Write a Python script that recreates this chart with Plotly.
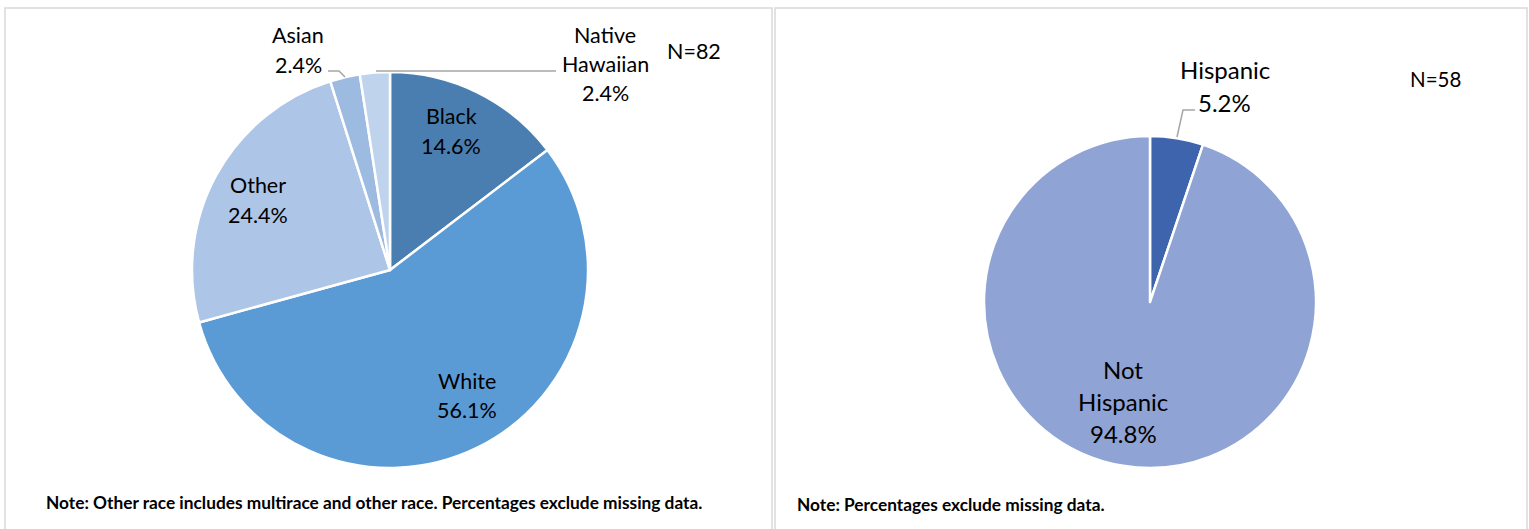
import plotly.graph_objects as go

W, H = 1529, 529

# ---- data ----
race_labels = ["Black", "White", "Other", "Asian", "Native Hawaiian"]
race_counts = [12, 46, 20, 2, 2]
race_colors = ["#4a7eb0", "#5b9bd5", "#adc5e7", "#9dbbe0", "#c0d3ec"]
race_n_label = "N=82"
race_note = "Note: Other race includes multirace and other race. Percentages exclude missing data."

eth_labels = ["Hispanic", "Not Hispanic"]
eth_counts = [3, 55]
eth_colors = ["#3e64ae", "#8fa3d4"]
eth_n_label = "N=58"
eth_note = "Note: Percentages exclude missing data."

FONT = "Lato, Carlito, 'Liberation Sans Narrow', sans-serif"


def px(x, y):
    return x / W, 1 - y / H


def pct(counts, i):
    return f"{counts[i] / sum(counts) * 100:.1f}%"


fig = go.Figure()

# left pie: center (390,270) r=198
cx, cy, r = 390, 270, 198
fig.add_trace(go.Pie(
    labels=race_labels, values=race_counts, sort=False, direction="clockwise", rotation=0,
    marker=dict(colors=race_colors, line=dict(color="white", width=2.5)),
    textinfo="none", hoverinfo="label+percent", showlegend=False,
    domain=dict(x=[(cx - r) / W, (cx + r) / W], y=[1 - (cy + r) / H, 1 - (cy - r) / H]),
))

# right pie: center (1150,302) r=166
cx2, cy2, r2 = 1150, 302, 166
fig.add_trace(go.Pie(
    labels=eth_labels, values=eth_counts, sort=False, direction="clockwise", rotation=0,
    marker=dict(colors=eth_colors, line=dict(color="white", width=2.5)),
    textinfo="none", hoverinfo="label+percent", showlegend=False,
    domain=dict(x=[(cx2 - r2) / W, (cx2 + r2) / W], y=[1 - (cy2 + r2) / H, 1 - (cy2 - r2) / H]),
))

annotations = []


def text_at(x, y, txt, size=19, bold=False, xanchor="center"):
    xx, yy = px(x, y)
    annotations.append(dict(
        x=xx, y=yy, xref="paper", yref="paper", text=f"<b>{txt}</b>" if bold else txt,
        showarrow=False, xanchor=xanchor, yanchor="middle",
        font=dict(family=FONT, size=size, color="#000000"),
    ))


# race labels (line-by-line positions)
race_label_pos = {
    "Black": [(451, 116), (451, 146)],
    "White": [(467, 381), (467, 410)],
    "Other": [(258, 185), (258, 215)],
    "Asian": [(298, 35), (298, 65)],
    "Native Hawaiian": [(605, 35), (605, 64), (605, 93)],
}
for i, lab in enumerate(race_labels):
    lines = lab.split(" ") + [pct(race_counts, i)]
    for (x, y), ln in zip(race_label_pos[lab], lines):
        text_at(x, y, ln, size=21.5)

eth_label_pos = {
    "Hispanic": [(1225, 70), (1224, 103)],
    "Not Hispanic": [(1123, 369), (1123, 401), (1123, 433)],
}
for i, lab in enumerate(eth_labels):
    lines = lab.split(" ") + [pct(eth_counts, i)]
    for (x, y), ln in zip(eth_label_pos[lab], lines):
        text_at(x, y, ln, size=24)

text_at(694, 51, race_n_label, size=21.5)
text_at(1435, 79, eth_n_label, size=20.5)
text_at(44, 502, race_note, size=17.3, bold=True, xanchor="left")
text_at(795, 504, eth_note, size=17.3, bold=True, xanchor="left")

shapes = []


def rect(x0, y0, x1, y1):
    a = px(x0, y0)
    b = px(x1, y1)
    shapes.append(dict(type="rect", xref="paper", yref="paper", x0=a[0], y0=b[1], x1=b[0], y1=a[1],
                       line=dict(color="#d9d9d9", width=1.5), layer="below"))


def line(pts, color="#a6a6a6"):
    path = "M " + " L ".join(f"{px(x, y)[0]},{px(x, y)[1]}" for x, y in pts)
    shapes.append(dict(type="path", xref="paper", yref="paper", path=path,
                       line=dict(color=color, width=1.5)))


rect(5, 8, 772, 540)
rect(775, 8, 1527, 540)

# leader lines
line([(376, 71), (556, 71)])
line([(328, 71), (339, 71), (345, 77)])
line([(1177, 137), (1183, 110), (1195, 110)])

fig.update_layout(
    width=W, height=H, margin=dict(l=0, r=0, t=0, b=0),
    paper_bgcolor="white", plot_bgcolor="white",
    annotations=annotations, shapes=shapes,
    font=dict(family=FONT),
)

fig.write_html("out.html", config={"displayModeBar": False},
               post_script="document.body.style.margin='0';")
